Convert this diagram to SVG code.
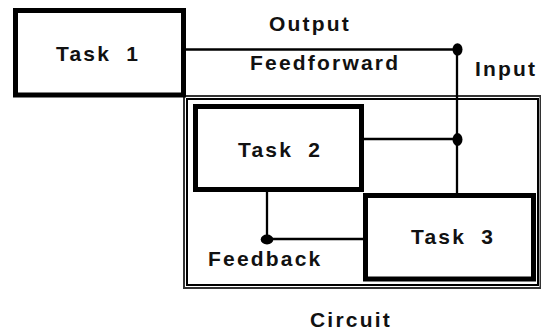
<svg xmlns="http://www.w3.org/2000/svg" width="541" height="331" viewBox="0 0 541 331">
  <style>
    .box { fill: #ffffff; stroke: #000000; stroke-width: 5; }
    .wire { fill: none; stroke: #000000; stroke-width: 2.3; }
    .dot { fill: #000000; }
    .lbl { font-family: "Liberation Sans", Arial, Helvetica, sans-serif; font-weight: bold; font-size: 21px; letter-spacing: 2.2px; fill: #111111; white-space: pre; }
  </style>
  <rect width="541" height="331" fill="#ffffff"/>

  <!-- Circuit enclosure: double border -->
  <g id="circuit">
    <rect x="184" y="96" width="356.5" height="192" fill="none" stroke="#333333" stroke-width="2"/>
    <rect x="187" y="99" width="351" height="186" fill="none" stroke="#000000" stroke-width="2"/>
    <text class="lbl" x="310" y="327">Circuit</text>
  </g>

  <g id="task1">
    <rect class="box" x="15.5" y="10.5" width="168" height="84.5"/>
    <text class="lbl" x="56" y="61" word-spacing="7">Task 1</text>
  </g>

  <g id="task2">
    <rect class="box" x="195.5" y="106.5" width="166" height="83"/>
    <text class="lbl" x="238" y="157" word-spacing="7">Task 2</text>
  </g>

  <g id="task3">
    <rect class="box" x="365.5" y="195.5" width="168" height="83.5"/>
    <text class="lbl" x="411" y="244" word-spacing="7">Task 3</text>
  </g>

  <g id="connectors">
    <!-- output of Task 1 feeding forward into the input bus -->
    <polyline class="wire" points="186,49.5 457,49.5"/>
    <line class="wire" x1="457" y1="49.5" x2="457" y2="193"/>
    <line class="wire" x1="364" y1="139" x2="457" y2="139"/>
    <ellipse class="dot" cx="457.5" cy="49.5" rx="5" ry="6.2"/>
    <ellipse class="dot" cx="457.5" cy="139.5" rx="5" ry="6.5"/>
    <!-- feedback path from Task 3 to Task 2 -->
    <polyline class="wire" points="267,192 267,239 363,239"/>
    <ellipse class="dot" cx="267" cy="239.5" rx="6.3" ry="5"/>
    <text class="lbl" x="269" y="31">Output</text>
    <text class="lbl" x="250" y="70">Feedforward</text>
    <text class="lbl" x="475" y="76">Input</text>
    <text class="lbl" x="208" y="266">Feedback</text>
  </g>
</svg>
